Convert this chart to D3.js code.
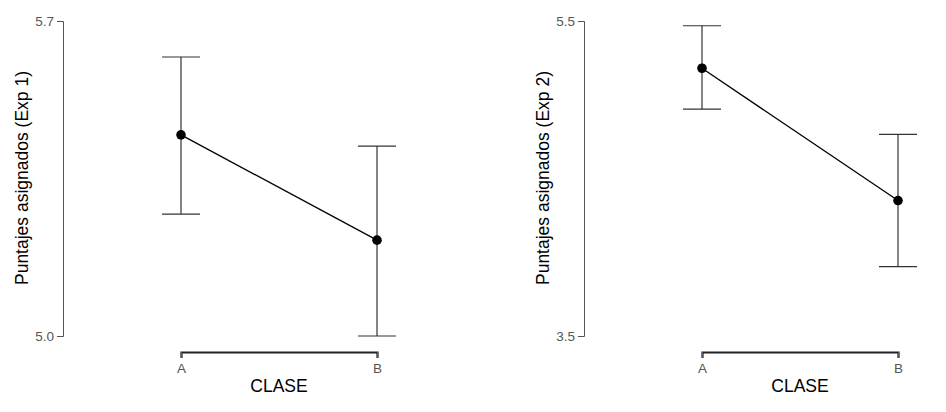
<!DOCTYPE html>
<html><head><meta charset="utf-8">
<script src="https://cdn.jsdelivr.net/npm/d3@7"></script>
<style>body{margin:0;background:#fff;} svg{display:block;font-family:"Liberation Sans",Arial,sans-serif;}</style>
</head><body>
<script>
const categories = ["A", "B"];
const exp1Mean  = [5.447, 5.213];
const exp1Upper = [5.62, 5.422];
const exp1Lower = [5.271, 5.0];
const exp1Ticks = [5.0, 5.7];
const exp1Label = "Puntajes asignados (Exp 1)";
const exp2Mean  = [5.20, 4.36];
const exp2Upper = [5.47, 4.78];
const exp2Lower = [4.94, 3.94];
const exp2Ticks = [3.5, 5.5];
const exp2Label = "Puntajes asignados (Exp 2)";
const xTitle = "CLASE";

const W = 946, H = 412;
const svg = d3.select("body").append("svg").attr("width", W).attr("height", H);

function panel(ox, mean, upper, lower, ticks, label) {
  const g = svg.append("g").attr("transform", `translate(${ox},0)`);
  const y = d3.scaleLinear().domain([ticks[0], ticks[1]]).range([336, 21]);
  const x = d3.scalePoint().domain(categories).range([181, 377]);
  const axisX = 63;

  const ya = g.append("g").attr("transform", `translate(${axisX},0)`)
    .call(d3.axisLeft(y).tickValues(ticks).tickFormat(d3.format(".1f")).tickSizeOuter(0).tickSize(6).tickPadding(3));
  ya.attr("font-family", null).attr("font-size", null);
  ya.select(".domain").attr("stroke", "#555");
  ya.selectAll(".tick line").attr("stroke", "#555");
  ya.selectAll(".tick text").attr("fill", "#555").style("font-size", "13.5px");

  g.append("text").attr("transform", `translate(28,178) rotate(-90)`)
    .attr("text-anchor", "middle").style("font-size", "17.5px").attr("fill", "#000").text(label);

  const xa = g.append("g").attr("transform", "translate(0,352)")
    .call(d3.axisBottom(x).tickSizeOuter(0).tickSize(6).tickPadding(5));
  xa.attr("font-family", null).attr("font-size", null);
  xa.select(".domain").attr("stroke", "#222").attr("stroke-width", 2.2);
  xa.selectAll(".tick line").attr("stroke", "#555");
  xa.selectAll(".tick text").attr("fill", "#555").style("font-size", "13.5px");

  g.append("text").attr("x", (x("A") + x("B")) / 2).attr("y", 392)
    .attr("text-anchor", "middle").style("font-size", "17.5px").attr("fill", "#000").text(xTitle);

  const data = categories.map((c, i) => ({ c, m: mean[i], u: upper[i], l: lower[i] }));
  const cap = 19;
  const eb = g.selectAll(".eb").data(data).enter().append("g").attr("stroke", "#333").attr("stroke-width", 1.2);
  eb.append("line").attr("x1", d => x(d.c)).attr("x2", d => x(d.c)).attr("y1", d => y(d.u)).attr("y2", d => y(d.l));
  eb.append("line").attr("x1", d => x(d.c) - cap).attr("x2", d => x(d.c) + cap).attr("y1", d => y(d.u)).attr("y2", d => y(d.u));
  eb.append("line").attr("x1", d => x(d.c) - cap).attr("x2", d => x(d.c) + cap).attr("y1", d => y(d.l)).attr("y2", d => y(d.l));

  g.append("path").datum(data).attr("fill", "none").attr("stroke", "#000").attr("stroke-width", 1.3)
    .attr("d", d3.line().x(d => x(d.c)).y(d => y(d.m)));
  g.selectAll(".pt").data(data).enter().append("circle")
    .attr("cx", d => x(d.c)).attr("cy", d => y(d.m)).attr("r", 4.8).attr("fill", "#000");
}

panel(0, exp1Mean, exp1Upper, exp1Lower, exp1Ticks, exp1Label);
panel(521, exp2Mean, exp2Upper, exp2Lower, exp2Ticks, exp2Label);
</script>
</body></html>
